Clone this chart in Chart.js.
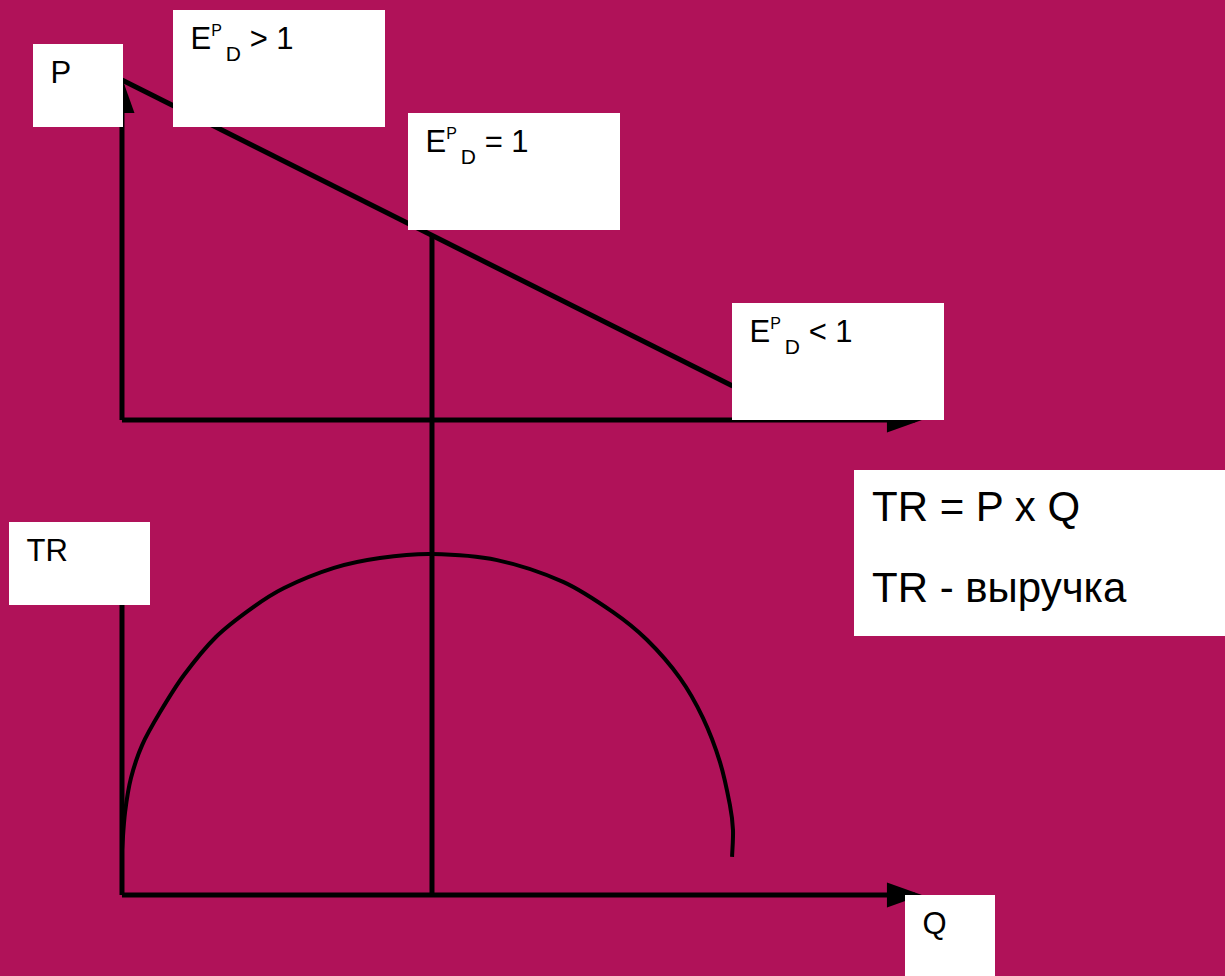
<!DOCTYPE html>
<html>
<head>
<meta charset="utf-8">
<script src="https://cdn.jsdelivr.net/npm/chart.js@4.4.1/dist/chart.umd.min.js"></script>
<style>
  html, body { margin: 0; padding: 0; background: #b01259; }
  #wrap { position: relative; width: 1225px; height: 976px; overflow: hidden; }
  #chart { position: absolute; left: 0; top: 0; }
  .box { position: absolute; background: #fff; font-family: "Liberation Sans", Arial, sans-serif; color: #000; }
  .lbl { position: absolute; left: 17.5px; top: 13px; font-size: 31px; line-height: 31px; white-space: nowrap; }
  .sup { font-size: 16px; line-height: 0; position: relative; top: -13px; }
  .sub { font-size: 21px; line-height: 0; position: relative; top: 12px; margin-left: 4px; }
  .big { position: absolute; left: 18px; font-size: 42px; line-height: 42px; white-space: nowrap; }
</style>
</head>
<body>
<div id="wrap">
  <canvas id="chart" width="1225" height="976"></canvas>

  <div class="box" style="left:33px;top:44px;width:90px;height:83px;"><div class="lbl">P</div></div>
  <div class="box" style="left:173px;top:10px;width:212px;height:117px;"><div class="lbl">E<span class="sup">P</span><span class="sub">D</span> &gt; 1</div></div>
  <div class="box" style="left:408px;top:113px;width:212px;height:117px;"><div class="lbl">E<span class="sup">P</span><span class="sub">D</span> = 1</div></div>
  <div class="box" style="left:732px;top:303px;width:212px;height:117px;"><div class="lbl">E<span class="sup">P</span><span class="sub">D</span> &lt; 1</div></div>
  <div class="box" style="left:9px;top:522px;width:141px;height:83px;"><div class="lbl">TR</div></div>
  <div class="box" style="left:854px;top:470px;width:371px;height:166px;">
    <div class="big" style="top:15.5px;">TR = P x Q</div>
    <div class="big" style="top:96.5px;">TR - выручка</div>
  </div>
  <div class="box" style="left:905px;top:895px;width:90px;height:81px;"><div class="lbl">Q</div></div>
</div>

<script>
// top panel: linear demand, quantity vs price
const demandQ = [0, 19.7];
const demandP = [10, 1.0];

// point of unit elasticity (middle of the demand line)
const unitQ = 10;
const unitP = 5.44;
const unitTRatUpperAxis = 13.97;

// bottom panel: total revenue, quantity vs TR
const revenueQ = [0, 0.10, 0.29, 0.65, 1.23, 2.00, 3.03, 4.19, 5.23, 6.84, 8.32, 10.0,
                  12.10, 14.23, 15.84, 16.94, 18.00, 18.74, 19.29, 19.61, 19.71, 19.68];
const revenueTR = [1.32, 2.44, 3.44, 4.41, 5.38, 6.47, 7.59, 8.44, 9.03, 9.62, 9.91, 10.03,
                   9.85, 9.21, 8.32, 7.50, 6.38, 5.21, 3.91, 2.65, 1.91, 1.12];

// axis lengths
const axisQmax = 25.58;
const axisPmax = 9.85;
const axisTRmax = 9.5;

function pts(xs, ys) {
    return xs.map((x, i) => ({ x: x, y: ys[i] }));
}

// draws a filled arrow head at the end of datasets marked with arrow: true
const arrowHeads = {
    id: 'arrowHeads',
    afterDatasetsDraw(chart) {
        const ctx = chart.ctx;
        chart.data.datasets.forEach((ds, i) => {
            if (!ds.arrow) return;
            const els = chart.getDatasetMeta(i).data;
            const a = els[els.length - 2], b = els[els.length - 1];
            const ang = Math.atan2(b.y - a.y, b.x - a.x);
            const cos = Math.cos(ang), sin = Math.sin(ang);
            const over = 7, len = 35, half = 12.5;
            const tx = b.x + cos * over, ty = b.y + sin * over;
            const bx = tx - cos * len, by = ty - sin * len;
            ctx.save();
            ctx.fillStyle = '#000';
            ctx.beginPath();
            ctx.moveTo(tx, ty);
            ctx.lineTo(bx - sin * half, by + cos * half);
            ctx.lineTo(bx + sin * half, by - cos * half);
            ctx.closePath();
            ctx.fill();
            ctx.restore();
        });
    }
};

const lineBase = {
    showLine: true,
    borderColor: '#000',
    pointRadius: 0,
    fill: false,
    tension: 0
};

new Chart(document.getElementById('chart').getContext('2d'), {
    type: 'scatter',
    data: {
        datasets: [
            Object.assign({}, lineBase, { label: 'P axis', yAxisID: 'yP', borderWidth: 5, arrow: true,
                data: pts([0, 0], [0, axisPmax]) }),
            Object.assign({}, lineBase, { label: 'Q axis (top)', yAxisID: 'yP', borderWidth: 5, arrow: true,
                data: pts([0, axisQmax], [0, 0]) }),
            Object.assign({}, lineBase, { label: 'Demand', yAxisID: 'yP', borderWidth: 5,
                data: pts(demandQ, demandP) }),
            Object.assign({}, lineBase, { label: 'Unit elasticity (top)', yAxisID: 'yP', borderWidth: 5,
                data: pts([unitQ, unitQ], [unitP, 0]) }),
            Object.assign({}, lineBase, { label: 'TR axis', yAxisID: 'yTR', borderWidth: 5,
                data: pts([0, 0], [0, axisTRmax]) }),
            Object.assign({}, lineBase, { label: 'Q axis (bottom)', yAxisID: 'yTR', borderWidth: 5, arrow: true,
                data: pts([0, axisQmax], [0, 0]) }),
            Object.assign({}, lineBase, { label: 'Unit elasticity (bottom)', yAxisID: 'yTR', borderWidth: 5,
                data: pts([unitQ, unitQ], [0, unitTRatUpperAxis]) }),
            Object.assign({}, lineBase, { label: 'TR', yAxisID: 'yTR', borderWidth: 4, tension: 0.3,
                data: pts(revenueQ, revenueTR) })
        ]
    },
    options: {
        responsive: false,
        animation: false,
        layout: { padding: 0, autoPadding: false },
        plugins: {
            legend: { display: false },
            tooltip: { enabled: false }
        },
        scales: {
            x: { type: 'linear', display: false, min: -3.935, max: 35.581 },
            y: { type: 'linear', display: false },
            yP: { type: 'linear', display: false, min: -16.353, max: 12.353 },
            yTR: { type: 'linear', display: false, min: -2.382, max: 26.324 }
        }
    },
    plugins: [arrowHeads]
});
</script>
</body>
</html>
